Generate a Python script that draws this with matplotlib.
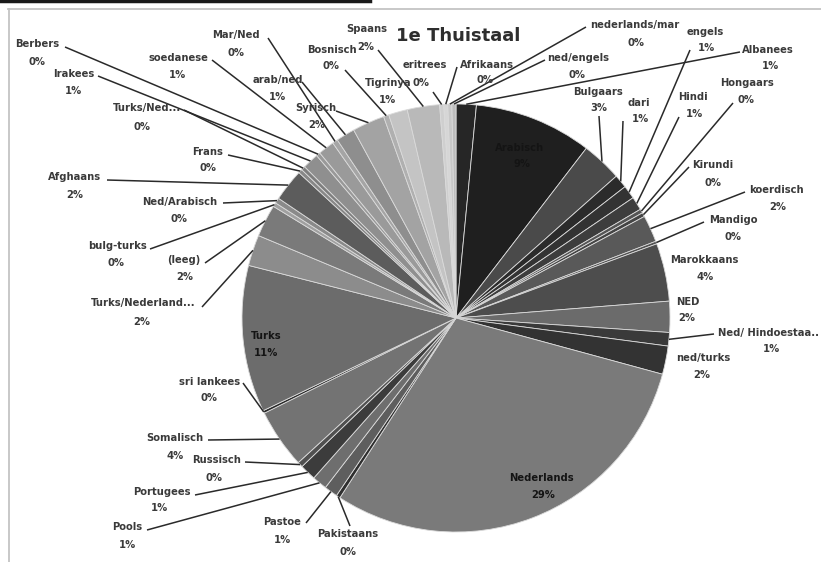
import numpy as np
import matplotlib
matplotlib.use("Agg")          # headless
import matplotlib.pyplot as plt

W, H = 821, 562

# clockwise from 12 o'clock, as in the source chart
languages = ["Albanees", "Arabisch", "Bulgaars", "dari", "engels", "Hindi",
             "Hongaars", "Kirundi", "koerdisch", "Mandigo", "Marokkaans", "NED",
             "Ned/ Hindoestaa..", "ned/turks", "Nederlands", "Pakistaans",
             "Pastoe", "Pools", "Portugees", "Russisch", "Somalisch",
             "sri lankees", "Turks", "Turks/Nederland...", "(leeg)",
             "bulg-turks", "Ned/Arabisch", "Afghaans", "Frans", "Turks/Ned...",
             "Irakees", "Berbers", "soedanese", "Mar/Ned", "arab/ned", "Syrisch",
             "Bosnisch", "Tigrinya", "Spaans", "eritrees", "Afrikaans",
             "nederlands/mar", "ned/engels"]
percent_labels = ["1%", "9%", "3%", "1%", "1%", "1%", "0%", "0%", "2%", "0%",
                  "4%", "2%", "1%", "2%", "29%", "0%", "1%", "1%", "1%", "0%",
                  "4%", "0%", "11%", "2%", "2%", "0%", "0%", "2%", "0%", "0%",
                  "1%", "0%", "1%", "0%", "1%", "2%", "0%", "1%", "2%", "0%",
                  "0%", "0%", "0%"]
shares = [1.5, 8.75, 3.0, 1.0, 1.0, 1.0, 0.3, 0.3, 2.0, 0.2, 4.3, 2.3, 1.0,
          2.1, 29.4, 0.3, 1.0, 1.1, 1.2, 0.4, 4.4, 0.2, 10.9, 2.3, 2.4, 0.3,
          0.4, 2.4, 0.3, 0.3, 1.2, 0.3, 1.2, 0.4, 1.4, 2.4, 0.4, 1.4, 2.4,
          0.3, 0.3, 0.3, 0.3]
greys = ["#262626", "#1f1f1f", "#4a4a4a", "#2b2b2b", "#333333", "#3d3d3d",
         "#555555", "#444444", "#595959", "#505050", "#4d4d4d", "#6b6b6b",
         "#3a3a3a", "#333333", "#7a7a7a", "#2e2e2e", "#5e5e5e", "#6e6e6e",
         "#3c3c3c", "#505050", "#737373", "#2a2a2a", "#6c6c6c", "#8c8c8c",
         "#7a7a7a", "#a0a0a0", "#8a8a8a", "#5c5c5c", "#888888", "#7e7e7e",
         "#8f8f8f", "#999999", "#9a9a9a", "#a5a5a5", "#8e8e8e", "#a3a3a3",
         "#b0b0b0", "#c4c4c4", "#b9b9b9", "#cfcfcf", "#d6d6d6", "#c8c8c8",
         "#bdbdbd"]

# label layout, pixel coords measured from the top-left of the picture
name_xy = [(768, 50), (520, 148), (598, 92), (639, 103), (705, 32), (693, 97),
           (747, 83), (713, 165), (776, 190), (733, 220), (704, 260), (688, 302),
           (768, 333), (703, 358), (541, 478), (348, 534), (282, 522), (127, 527),
           (162, 492), (217, 460), (175, 438), (210, 382), (266, 336), (143, 303),
           (184, 260), (117, 246), (180, 202), (75, 177), (208, 152), (147, 108),
           (74, 74), (37, 44), (178, 58), (236, 35), (278, 80), (316, 108),
           (332, 50), (388, 83), (367, 29), (425, 65), (487, 65), (635, 25),
           (578, 58)]
pct_xy = [(770, 66), (522, 164), (599, 108), (640, 119), (706, 48), (694, 114),
          (746, 100), (713, 183), (778, 207), (733, 237), (705, 277), (687, 318),
          (771, 349), (702, 375), (543, 495), (348, 552), (282, 540), (127, 545),
          (159, 508), (214, 478), (175, 456), (209, 398), (266, 353), (142, 322),
          (185, 277), (116, 263), (179, 219), (75, 195), (208, 168), (142, 127),
          (73, 91), (37, 62), (177, 75), (236, 53), (277, 97), (317, 125),
          (331, 66), (387, 100), (366, 47), (421, 83), (485, 80), (636, 43),
          (577, 75)]
leader_from = [(740, 52), None, (599, 116), (623, 121), (690, 50), (679, 117),
               (733, 103), (689, 167), (745, 192), (704, 222), None, None,
               (714, 334), None, None, (350, 526), (306, 523), (147, 530),
               (195, 495), (245, 462), (208, 440), (243, 383), None, (202, 307),
               (205, 263), (150, 249), (223, 203), (107, 180), (228, 155),
               (184, 110), (98, 76), (65, 47), (212, 60), (268, 38), (302, 82),
               (336, 111), (345, 70), None, (378, 50), (433, 92), (457, 67),
               (586, 27), (545, 60)]
# labels printed on the slice itself are black
on_slice = {"Arabisch", "Turks", "Nederlands"}

CX, CY, R = 456, 318, 214
TXT = "#3a3a3a"


def P(x, y):
    return x, H - y


fig = plt.figure(figsize=(W / 100, H / 100), dpi=100)
ax = fig.add_axes([0, 0, 1, 1])
wedges, _ = ax.pie(shares, colors=greys, startangle=90, counterclock=False,
                   center=P(CX, CY), radius=R,
                   wedgeprops=dict(edgecolor="#dadada", linewidth=0.6))
ax.set_xlim(0, W)
ax.set_ylim(0, H)
ax.set_aspect("equal")
ax.axis("off")

for w, name, pct, nxy, pxy, src in zip(wedges, languages, percent_labels,
                                       name_xy, pct_xy, leader_from):
    if src is not None:
        mid = np.deg2rad((w.theta1 + w.theta2) / 2)
        ex = w.center[0] + w.r * np.cos(mid)
        ey = w.center[1] + w.r * np.sin(mid)
        sx, sy = P(*src)
        ax.plot([sx, ex], [sy, ey], color="#2a2a2a", lw=1.1, zorder=3,
                solid_capstyle="butt")
    col = "#141414" if name in on_slice else TXT
    ax.text(*P(*nxy), name, ha="center", va="center", fontsize=7.2, color=col,
            fontweight="bold", zorder=4)
    ax.text(*P(*pxy), pct, ha="center", va="center", fontsize=7.2, color=col,
            fontweight="bold", zorder=4)

ax.text(*P(458, 36), "1e Thuistaal", ha="center", va="center", fontsize=13,
        fontweight="bold", color="#2e2e2e")

# scan frame: dark strip at the top left, light chart border
ax.plot([0, 370], [H - 1, H - 1], color="#1a1a1a", lw=2.5, clip_on=False)
ax.plot([8, W], [H - 9, H - 9], color="#c4c4c4", lw=1.3)
ax.plot([9, 9], [H - 9, 0], color="#c4c4c4", lw=1.3)

fig.savefig("out.png", dpi=100)
